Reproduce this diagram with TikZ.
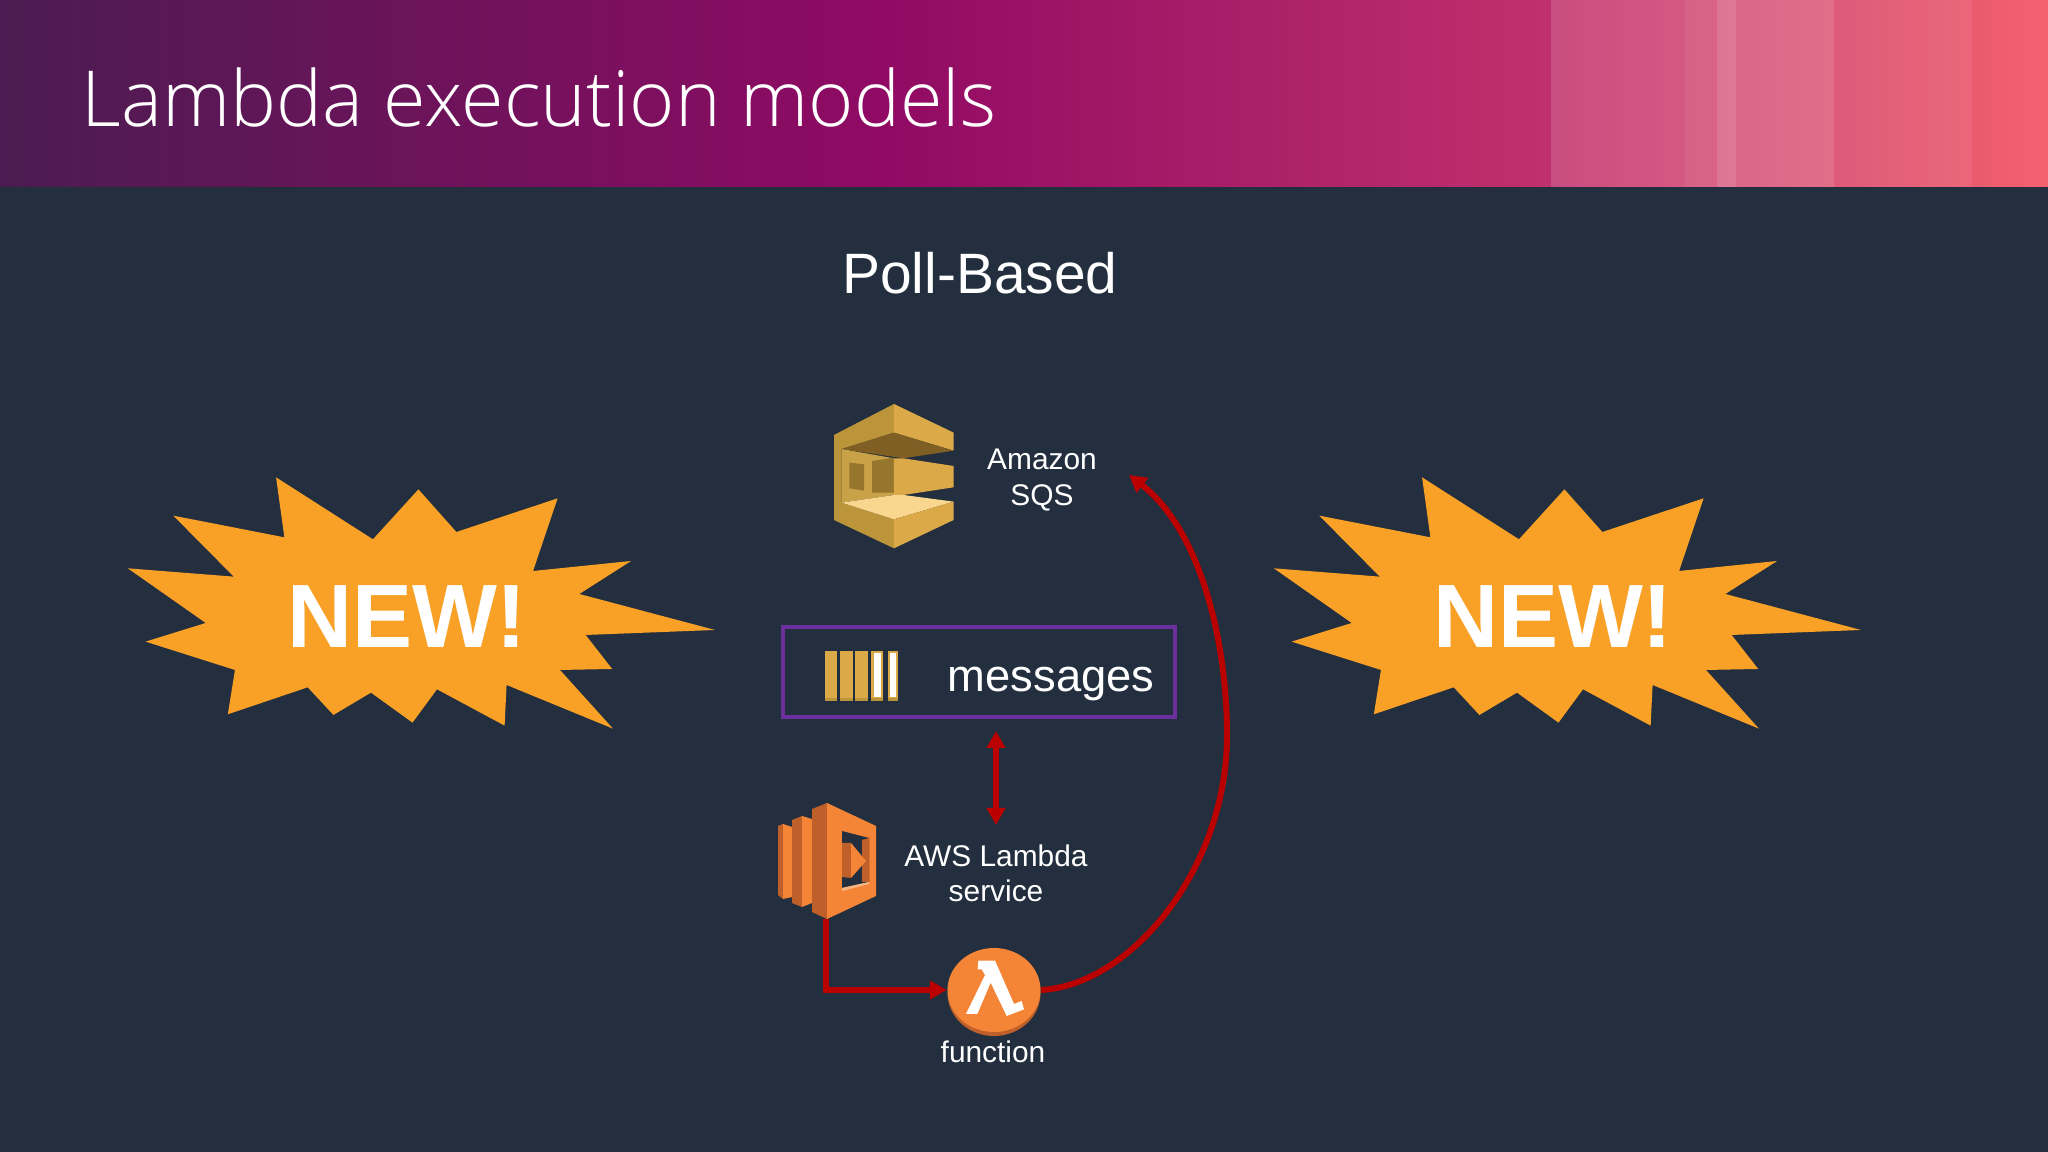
\documentclass[tikz,border=0pt]{standalone}
\usepackage{fontspec}
\setmainfont{Liberation Sans}
\newfontfamily\titlefont{Open Sans Light}
\usepackage{tikz}
\usetikzlibrary{arrows.meta,shapes.geometric}
\definecolor{slidebg}{HTML}{232F3E}
\definecolor{burstorange}{HTML}{F9A026}
\definecolor{linkred}{HTML}{BA0000}
\definecolor{boxpurple}{HTML}{6B2F9E}
\definecolor{lamlight}{HTML}{F58536}
\definecolor{lamdark}{HTML}{BF602A}
\definecolor{sqsgold}{HTML}{DBA948}
\definecolor{sqsmid}{HTML}{BC953A}
\definecolor{sqswall}{HTML}{C9A247}
\definecolor{sqsdark}{HTML}{7F5F24}
\definecolor{sqswin}{HTML}{96752C}
\definecolor{sqsfloor}{HTML}{F9D78E}
\definecolor{bandA}{HTML}{4B1C51}
\definecolor{bandB}{HTML}{900A64}
\definecolor{bandC}{HTML}{AE2269}
\definecolor{bandD}{HTML}{C0306C}
\definecolor{bandE}{HTML}{F2626F}
\pgfdeclarehorizontalshading{bandshade}{100bp}{
  color(0bp)=(bandA); color(25bp)=(bandA); color(46.5bp)=(bandB);
  color(56.7bp)=(bandC); color(62.8bp)=(bandD); color(75bp)=(bandE);
  color(100bp)=(bandE)}
\tikzset{
lbl/.style = {text=white, align=center, font=\fontsize{8.5}{10}\selectfont, inner sep=0pt},
newlbl/.style = {text=white, inner sep=0pt, font=\fontsize{25.6}{30}\selectfont\bfseries},
link/.style = {draw=linkred, line width=1.7pt},
tip/.style = {-{Triangle[length=1.7mm,width=1.8mm]}},
tips/.style = {{Triangle[length=1.7mm,width=1.8mm]}-{Triangle[length=1.7mm,width=1.8mm]}},
}

\begin{document}
\begin{tikzpicture}[x=0.1mm,y=-0.1mm]
    \useasboundingbox (0,0) rectangle (2048,1152);
    \fill[slidebg] (0,0) rectangle (2048,1152);

    % title band
    \shade[shading=bandshade] (0,0) rectangle (2048,187);
    \fill[white,opacity=.14] (1551,0) rectangle (1685,187);
    \fill[white,opacity=.19] (1685,0) rectangle (1834,187);
    \fill[white,opacity=.12] (1717,0) rectangle (1736,187);
    \fill[white,opacity=.08] (1834,0) rectangle (1972,187);
    \node[text=white, inner sep=0pt, anchor=base west, font=\fontsize{22}{26}\selectfont\titlefont] (title) at (81,127) {Lambda execution models};

    \node[text=white, inner sep=0pt, font=\fontsize{16.2}{19}\selectfont] (pollbased) at (980,273) {Poll-Based};

    % the two bursts
    \foreach \dx/\nm in {0/burstl,1146/burstr}{
    \fill[burstorange, shift={(110+\dx,460)}, xscale=0.3954, yscale=0.3333]
        (420,52) -- (665,238) -- (780,88) -- (876,216) -- (1132,115) -- (1070,333)
        -- (1318,303) -- (1187,402) -- (1530,510) -- (1203,525) -- (1270,627)
        -- (1138,630) -- (1272,806) -- (1003,675) -- (998,797) -- (827,688)
        -- (765,788) -- (660,698) -- (565,765) -- (500,682) -- (298,763)
        -- (316,630) -- (90,545) -- (242,489) -- (45,325) -- (313,350)
        -- (160,167) -- (441,232) -- cycle;
    \node[newlbl] (\nm) at (407+\dx,617) {NEW!};
    }

    % SQS icon
    \begin{scope}[shift={(760,380)},scale=0.3333]
    \fill[sqsmid] (402,72) -- (222,165) -- (222,420) -- (402,505) -- (402,418) -- (245,368) -- (245,207) -- (402,158) -- cycle;
    \fill[sqsgold] (402,72) -- (581,158) -- (581,212) -- (402,158) -- cycle;
    \fill[sqsdark] (402,158) -- (581,212) -- (430,235) -- (245,207) -- cycle;
    \fill[sqswall] (245,207) -- (402,235) -- (402,345) -- (245,368) -- cycle;
    \fill[sqswin] (268,248) -- (312,253) -- (312,332) -- (268,325) -- cycle;
    \fill[sqswin] (336,243) -- (402,233) -- (402,338) -- (336,338) -- cycle;
    \fill[sqsgold] (402,235) -- (430,235) -- (581,258) -- (581,322) -- (430,345) -- (402,345) -- cycle;
    \fill[sqsfloor] (245,368) -- (402,345) -- (430,345) -- (581,365) -- (402,418) -- cycle;
    \fill[sqsgold] (402,418) -- (581,365) -- (581,420) -- (402,505) -- cycle;
    \end{scope}
    \node[lbl] (sqslbl) at (1042,480) {Amazon\\SQS};
    \coordinate (sqstip) at (1129,475);

    % messages box
    \node[draw=boxpurple, line width=1.3pt, minimum width=39.2mm, minimum height=9mm, inner sep=0pt] (msgbox) at (979,672) {};
    \foreach \xa/\xb in {825/837,840/853,855/868,871/883,888/898}{
        \fill[sqsgold] (\xa,651) rectangle (\xb,699);
        \fill[sqsmid] (\xa,698) rectangle (\xb,701);
    }
    \fill[white] (874,653) rectangle (881,697);
    \fill[white] (890,653) rectangle (896,697);
    \node[text=white, inner sep=0pt, font=\fontsize{12.9}{15}\selectfont] (msglbl) at (1051,684) {messages};

    \coordinate (polltop) at (996,731);
    \coordinate (pollbot) at (996,825);
    \draw[link,tips] (polltop) -- (pollbot);

    % lambda service icon
    \fill[lamdark] (778,826) -- (783,824) -- (783,899) -- (778,895) -- cycle;
    \fill[lamlight] (783,824) -- (792,827) -- (792,897) -- (783,899) -- cycle;
    \fill[lamdark] (792,820) -- (802,816) -- (802,907) -- (792,903) -- cycle;
    \fill[lamlight] (802,816) -- (812,819) -- (812,903) -- (802,907) -- cycle;
    \fill[lamdark] (812,809) -- (827,803) -- (827,919) -- (812,912) -- cycle;
    \fill[lamlight] (827,803) -- (876,826) -- (876,896) -- (827,919) -- cycle;
    \fill[slidebg] (842,831) -- (869,838) -- (869,882) -- (842,888) -- cycle;
    \fill[lamdark] (862,840) -- (869,838) -- (869,882) -- (862,882) -- cycle;
    \fill[lamdark] (842,843) -- (851,843) -- (851,878) -- (842,877) -- cycle;
    \fill[lamlight] (851,843) -- (866,861) -- (851,878) -- cycle;
    \fill[lamlight!60!white] (842,888) -- (869,882) -- (869,884) -- (842,891) -- cycle;
    \coordinate (lamfoot) at (826,919);
    \node[lbl] (lamlbl) at (996,873) {AWS Lambda\\service};

    % function
    \fill[lamdark] (994,993) ellipse (46.5 and 43);
    \node[ellipse, fill=lamlight, minimum width=9.3mm, minimum height=8.4mm, inner sep=0pt] (fn) at (994,990) {};
    \fill[white, shift={(940,940)}, scale=0.3333] (115,62) -- (165,62) -- (222,192) -- (245,183) -- (252,208)
        -- (200,228) -- (152,128) -- (112,222) -- (78,222) -- (135,105) -- (125,88) -- (113,88) -- cycle;
    \node[lbl] (fnlbl) at (993,1052) {function};

    \draw[link,tip] (lamfoot) |- (fn.west);
    \draw[link,tip] (fn.east) .. controls (1130,985) and (1227,870) .. (1227,735) .. controls (1227,640) and (1200,530) .. (sqstip);

\end{tikzpicture}
\end{document}
